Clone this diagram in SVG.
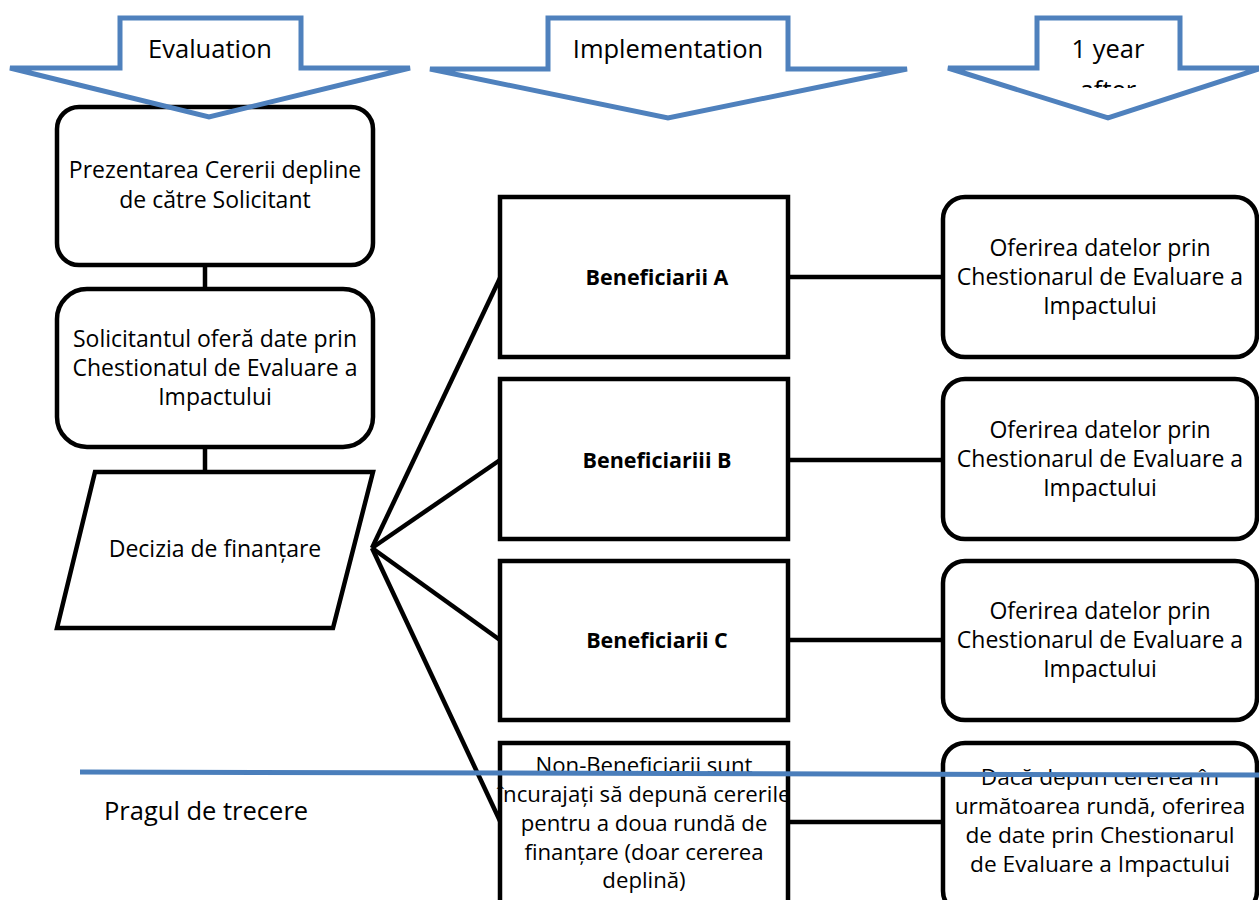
<svg xmlns="http://www.w3.org/2000/svg" width="1259" height="900" viewBox="0 0 1259 900">
<style>
.box{fill:#fff;stroke:#000;stroke-width:4.5}
.con{fill:none;stroke:#000;stroke-width:4.5}
.arr{fill:none;stroke:#4f81bd;stroke-width:5;stroke-linejoin:miter}
.t{font-family:"Open Sans","Liberation Sans",sans-serif;font-size:23px;fill:#000;text-anchor:middle}
.h{font-family:"Open Sans","Liberation Sans",sans-serif;font-size:25.5px;fill:#000;text-anchor:middle}
.b{font-weight:bold;font-size:21.5px}
.n{font-size:22.2px}
.m{font-size:22.7px}
</style>
<defs>
<clipPath id="clipAfter"><rect x="1037" y="60" width="143" height="28"/></clipPath>
</defs>
<rect width="1259" height="900" fill="#fff"/>
<g id="connectors">
<line class="con" x1="205" y1="265" x2="205" y2="290"/>
<line class="con" x1="205" y1="447" x2="205" y2="474"/>
<line class="con" x1="372" y1="548" x2="500" y2="278"/>
<line class="con" x1="372" y1="548" x2="500" y2="460"/>
<line class="con" x1="372" y1="548" x2="500" y2="640"/>
<line class="con" x1="372" y1="548" x2="500" y2="821"/>
<line class="con" x1="788" y1="277" x2="943" y2="277"/>
<line class="con" x1="788" y1="460" x2="943" y2="460"/>
<line class="con" x1="788" y1="640" x2="943" y2="640"/>
<line class="con" x1="788" y1="822" x2="943" y2="822"/>
</g>
<g id="node-prezentarea">
<rect class="box" x="57" y="107" width="316" height="158" rx="22"/>
<text class="t" x="215" y="178">Prezentarea Cererii depline</text>
<text class="t" x="215" y="208">de către Solicitant</text>
</g>
<g id="node-solicitantul">
<rect class="box" x="57" y="289" width="316" height="158" rx="30"/>
<text class="t" x="215" y="347">Solicitantul oferă date prin</text>
<text class="t" x="215" y="376">Chestionatul de Evaluare a</text>
<text class="t" x="215" y="405">Impactului</text>
</g>
<g id="node-decizia">
<polygon class="box" points="95,472 373,472 333,628 57,628"/>
<text class="t" x="215" y="557">Decizia de finanțare</text>
</g>
<g id="node-benA">
<rect class="box" x="500" y="197" width="288" height="160"/>
<text class="t b" x="657" y="285">Beneficiarii A</text>
</g>
<g id="node-benB">
<rect class="box" x="500" y="379" width="288" height="160"/>
<text class="t b" x="657" y="468">Beneficiariii B</text>
</g>
<g id="node-benC">
<rect class="box" x="500" y="561" width="288" height="159"/>
<text class="t b" x="657" y="648">Beneficiarii C</text>
</g>
<g id="node-nonben">
<rect class="box" x="500" y="743" width="288" height="170"/>
<text class="t n" x="644" y="773">Non-Beneficiarii sunt</text>
<text class="t n" x="644" y="802">încurajați să depună cererile</text>
<text class="t n" x="644" y="831">pentru a doua rundă de</text>
<text class="t n" x="644" y="860">finanțare (doar cererea</text>
<text class="t n" x="644" y="888">deplină)</text>
</g>
<g id="node-ofA">
<rect class="box" x="943" y="197" width="314" height="160" rx="22"/>
<text class="t" x="1100" y="256">Oferirea datelor prin</text>
<text class="t" x="1100" y="285">Chestionarul de Evaluare a</text>
<text class="t" x="1100" y="314">Impactului</text>
</g>
<g id="node-ofB">
<rect class="box" x="943" y="379" width="314" height="160" rx="22"/>
<text class="t" x="1100" y="438">Oferirea datelor prin</text>
<text class="t" x="1100" y="467">Chestionarul de Evaluare a</text>
<text class="t" x="1100" y="496">Impactului</text>
</g>
<g id="node-ofC">
<rect class="box" x="943" y="561" width="314" height="159" rx="22"/>
<text class="t" x="1100" y="619">Oferirea datelor prin</text>
<text class="t" x="1100" y="648">Chestionarul de Evaluare a</text>
<text class="t" x="1100" y="677">Impactului</text>
</g>
<g id="node-daca">
<rect class="box" x="943" y="743" width="314" height="170" rx="22"/>
<text class="t m" x="1100" y="785">Dacă depun cererea în</text>
<text class="t m" x="1100" y="814">următoarea rundă, oferirea</text>
<text class="t m" x="1100" y="843">de date prin Chestionarul</text>
<text class="t m" x="1100" y="872">de Evaluare a Impactului</text>
</g>
<g id="arrow-evaluation">
<polygon class="arr" points="120,18 301,18 301,68 410,68 209,117 10,68 120,68"/>
<text class="h" x="210" y="58">Evaluation</text>
</g>
<g id="arrow-implementation">
<polygon class="arr" points="548,18 788,18 788,69 907,69 668,118 430,69 548,69"/>
<text class="h" x="668" y="58">Implementation</text>
</g>
<g id="arrow-after">
<polygon class="arr" points="1037,18 1180,18 1180,68 1262,68 1108,118 948,68 1037,68"/>
<text class="h" x="1108" y="58">1 year</text>
<text class="h" x="1108" y="99" clip-path="url(#clipAfter)">after</text>
</g>
<g id="threshold">
<line x1="80" y1="772" x2="1259" y2="775" stroke="#4a7ebb" stroke-width="5"/>
<text class="h" x="104" y="820" style="text-anchor:start">Pragul de trecere</text>
</g>
</svg>
